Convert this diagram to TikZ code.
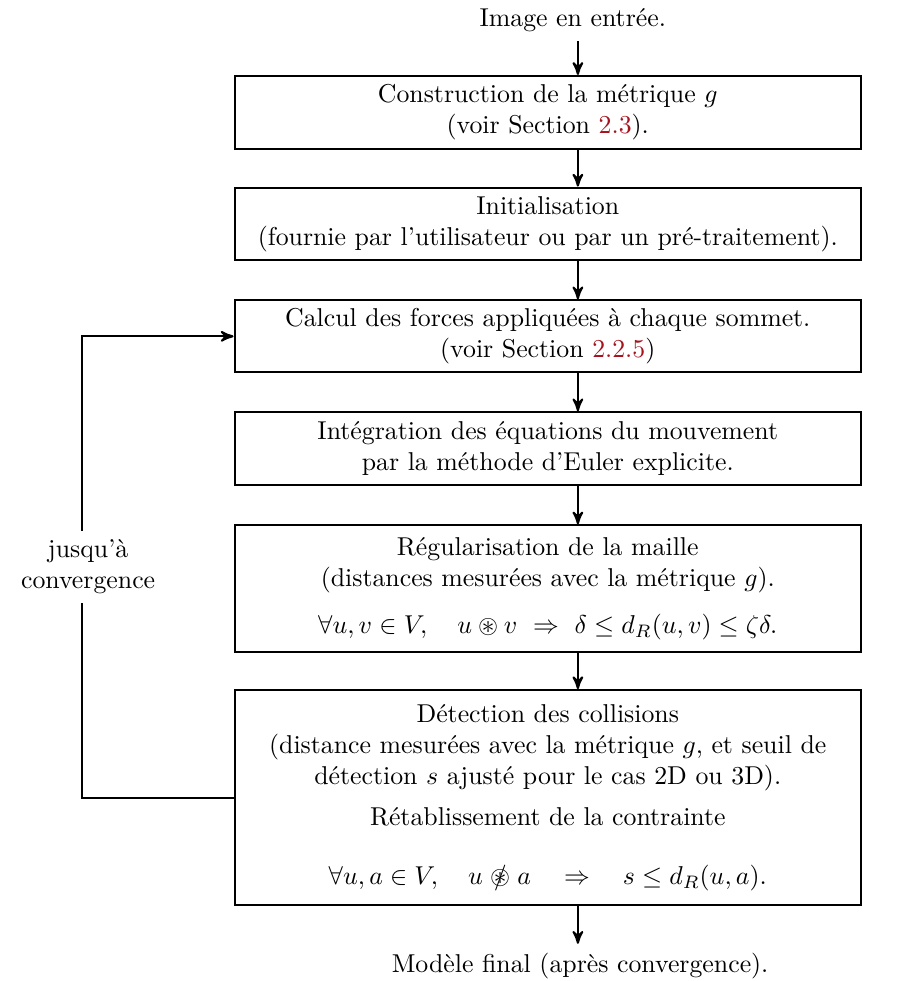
\documentclass[tikz,border=0pt]{standalone}
\usepackage{xcolor}
\usepackage{amsmath}
\usepackage{amssymb}
\usepackage{tikz}
\usetikzlibrary{arrows}

\definecolor{linkred}{RGB}{165,20,30}
\newcommand{\ncircast}{\mathrel{\ooalign{$\circledast$\cr\hidewidth$/$\hidewidth\cr}}}

\begin{document}
\begin{tikzpicture}[->,>=stealth',thick]
\tikzstyle{stepbox} = [rectangle, draw=black, minimum width=8.53cm, align=center, inner sep=2pt]
\tikzstyle{arrow} = [thick,->,>=stealth']

\useasboundingbox (0,0) rectangle (12.30,-13.36);

\coordinate (ax) at (7.87,0);
\coordinate (loop) at (1.12,0);

\node (in) at (7.80,-0.27) {Image en entrée.};
\node (b1) at (7.46,-1.53) [stepbox, minimum height=0.99cm] {Construction de la métrique $g$\\(voir Section \textcolor{linkred}{2.3}).};
\node (b2) at (7.46,-3.05) [stepbox, minimum height=0.99cm] {Initialisation\\(fournie par l'utilisateur ou par un pré-traitement).};
\node (b3) at (7.46,-4.58) [stepbox, minimum height=0.98cm] {Calcul des forces appliquées à chaque sommet.\\(voir Section \textcolor{linkred}{2.2.5})};
\node (b4) at (7.46,-6.11) [stepbox, minimum height=0.99cm] {Intégration des équations du mouvement\\par la méthode d'Euler explicite.};
\node (b5) at (7.46,-8.02) [stepbox, minimum height=1.73cm] {Régularisation de la maille\\(distances mesurées avec la métrique $g$).\\[6pt]
  $\forall u,v\in V,\quad u\circledast v\ \Rightarrow\ \delta\leq d_R(u,v)\leq\zeta\delta.$};
\node (b6) at (7.46,-10.865) [stepbox, minimum height=2.93cm] {Détection des collisions\\(distance mesurées avec la métrique $g$, et seuil de\\détection $s$ ajusté pour le cas 2D ou 3D).\\[4pt]
  Rétablissement de la contrainte\\[11pt]
  $\forall u,a\in V,\quad u\ncircast a\quad\Rightarrow\quad s\leq d_R(u,a).$};
\node (out) at (7.90,-13.16) {Modèle final (après convergence).};

\draw[arrow] (in.south -| ax) -- (b1.north -| ax);
\draw[arrow] (b1.south -| ax) -- (b2.north -| ax);
\draw[arrow] (b2.south -| ax) -- (b3.north -| ax);
\draw[arrow] (b3.south -| ax) -- (b4.north -| ax);
\draw[arrow] (b4.south -| ax) -- (b5.north -| ax);
\draw[arrow] (b5.south -| ax) -- (b6.north -| ax);
\draw[arrow] (b6.south -| ax) -- (out.north -| ax);

% boucle
\draw[arrow] (b6.west) -| (loop |- b3.west) -- (b3.west);
\node (until) at (1.20,-7.72) [fill=white, align=center] {jusqu'à\\convergence};

\end{tikzpicture}
\end{document}
